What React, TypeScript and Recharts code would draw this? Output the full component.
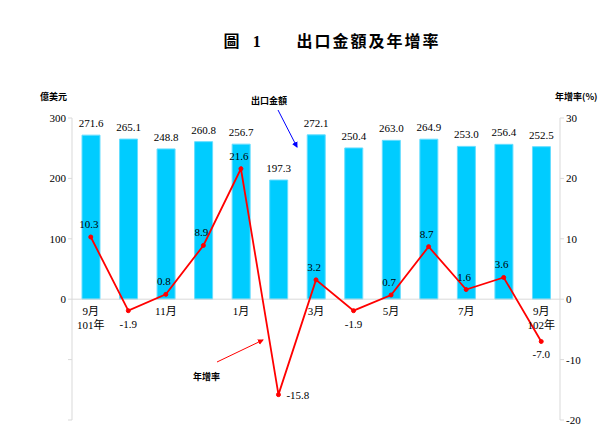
import React from "react";
import {
  ComposedChart,
  Bar,
  Line,
  XAxis,
  YAxis,
  LabelList,
  ReferenceLine,
  ReferenceDot,
} from "recharts";

const periods = [
  "101/9", "101/10", "101/11", "101/12", "102/1", "102/2", "102/3",
  "102/4", "102/5", "102/6", "102/7", "102/8", "102/9",
];
const tickLabels = [
  ["9月", "101年"], [], ["11月"], [], ["1月"], [], ["3月"],
  [], ["5月"], [], ["7月"], [], ["9月", "102年"],
];
const exportValues = [271.6, 265.1, 248.8, 260.8, 256.7, 197.3, 272.1, 250.4, 263.0, 264.9, 253.0, 256.4, 252.5];
const growthRates = [10.3, -1.9, 0.8, 8.9, 21.6, -15.8, 3.2, -1.9, 0.7, 8.7, 1.6, 3.6, -7.0];
const leftTicks = [-200, -100, 0, 100, 200, 300];
const rightTicks = [-20, -10, 0, 10, 20, 30];

const data = periods.map((p, i) => ({
  period: p,
  exports: exportValues[i],
  growth: growthRates[i],
}));

const FONT = "'Liberation Serif', 'Noto Sans CJK TC', serif";
const AXIS = "#D9D9D9";

const GrowthLabel = (props: any) => {
  const { x, y, value } = props;
  const txt = Number(value).toFixed(1);
  if (value < -10) {
    return (
      <text x={x + 8} y={y + 4} fontSize={11} fontFamily={FONT} fill="#000">
        {txt}
      </text>
    );
  }
  if (value < 0) {
    return (
      <text x={x} y={y + 17} fontSize={11} fontFamily={FONT} fill="#000" textAnchor="middle">
        {txt}
      </text>
    );
  }
  return (
    <text x={x - 2} y={y - 9} fontSize={11} fontFamily={FONT} fill="#000" textAnchor="middle">
      {txt}
    </text>
  );
};

const CategoryLabel = (lines: string[]) => (props: any) => {
  const vb = props.viewBox || {};
  const cx = vb.x + (vb.width || 0) / 2;
  const cy = vb.y + (vb.height || 0) / 2;
  return (
    <text x={cx} y={cy + 16} fontSize={11} fontFamily={FONT} fill="#000" textAnchor="middle">
      {lines.map((l, i) => (
        <tspan key={i} x={cx} dy={i === 0 ? 0 : 14}>
          {l}
        </tspan>
      ))}
    </text>
  );
};

export default function App() {
  return (
    <div style={{ position: "absolute", left: 0, top: 0, width: 614, height: 445, background: "#fff", fontFamily: FONT }}>
      <div
        style={{
          position: "absolute",
          left: 0,
          width: 614,
          top: 28,
          textAlign: "center",
          fontSize: 16,
          fontWeight: "bold",
          letterSpacing: 2,
          fontFamily: "'Noto Sans CJK TC', serif",
          paddingLeft: 50,
          boxSizing: "border-box",
        }}
      >
        圖&nbsp;&nbsp;<span style={{ fontFamily: "'Liberation Serif'" }}>1</span>&nbsp;&nbsp;&nbsp;&nbsp;&nbsp;&nbsp;出口金額及年增率
      </div>
      <ComposedChart
        width={614}
        height={445}
        data={data}
        margin={{ top: 118, right: 24, bottom: 25, left: 42 }}
        style={{ position: "absolute", left: 0, top: 0 }}
      >
        <XAxis dataKey="period" hide />
        <YAxis
          yAxisId="left"
          width={30}
          domain={[-200, 300]}
          ticks={leftTicks}
          allowDataOverflow
          stroke={AXIS}
          tickSize={4}
          tick={{ fill: "#000", fontSize: 11, fontFamily: FONT }}
          tickFormatter={(v: number) => (v >= 0 ? String(v) : "")}
        />
        <YAxis
          yAxisId="right"
          orientation="right"
          width={30}
          domain={[-20, 30]}
          ticks={rightTicks}
          allowDataOverflow
          stroke={AXIS}
          tickSize={4}
          tick={{ fill: "#000", fontSize: 11, fontFamily: FONT }}
        />
        <ReferenceLine yAxisId="left" y={0} stroke={AXIS} />
        <Bar yAxisId="left" dataKey="exports" fill="#00CCFF" stroke="#66DDFF" strokeWidth={1} barSize={18} isAnimationActive={false}>
          <LabelList dataKey="exports" position="top" offset={8} fontSize={11} fontFamily={FONT} fill="#000" formatter={(v: any) => Number(v).toFixed(1)} />
        </Bar>
        <Line
          yAxisId="right"
          dataKey="growth"
          stroke="#FF0000"
          strokeWidth={1.8}
          dot={{ r: 2, fill: "#FF0000", stroke: "#FF0000", strokeWidth: 1 }}
          isAnimationActive={false}
        >
          <LabelList dataKey="growth" content={GrowthLabel} />
        </Line>
        {periods.map((p, i) =>
          tickLabels[i].length ? (
            <ReferenceDot
              key={p}
              yAxisId="left"
              x={p}
              y={0}
              r={0}
              fill="none"
              stroke="none"
              ifOverflow="visible"
              label={{ content: CategoryLabel(tickLabels[i]) }}
            />
          ) : null
        )}
      </ComposedChart>
      <svg width={614} height={445} style={{ position: "absolute", left: 0, top: 0, pointerEvents: "none" }}>
        <defs>
          <marker id="ab" markerWidth="6" markerHeight="6" refX="5" refY="3" orient="auto">
            <path d="M0,0 L6,3 L0,6 z" fill="#0000FF" />
          </marker>
          <marker id="ar" markerWidth="6" markerHeight="6" refX="5" refY="3" orient="auto">
            <path d="M0,0 L6,3 L0,6 z" fill="#FF0000" />
          </marker>
        </defs>
        <text x={40} y={100} fontSize={9} fontFamily="'Noto Sans CJK TC'" fontWeight="bold">億美元</text>
        <text x={555} y={100} fontSize={9} fontFamily="'Noto Sans CJK TC'" fontWeight="bold">年增率(%)</text>
        <text x={251} y={104} fontSize={9} fontFamily="'Noto Sans CJK TC'" fontWeight="bold">出口金額</text>
        <line x1={278} y1={110} x2={297} y2={147} stroke="#0000FF" strokeWidth={1} markerEnd="url(#ab)" />
        <text x={193} y={380} fontSize={9} fontFamily="'Noto Sans CJK TC'" fontWeight="bold">年增率</text>
        <line x1={217} y1={362} x2={263} y2={340} stroke="#FF0000" strokeWidth={1} markerEnd="url(#ar)" />
      </svg>
    </div>
  );
}
